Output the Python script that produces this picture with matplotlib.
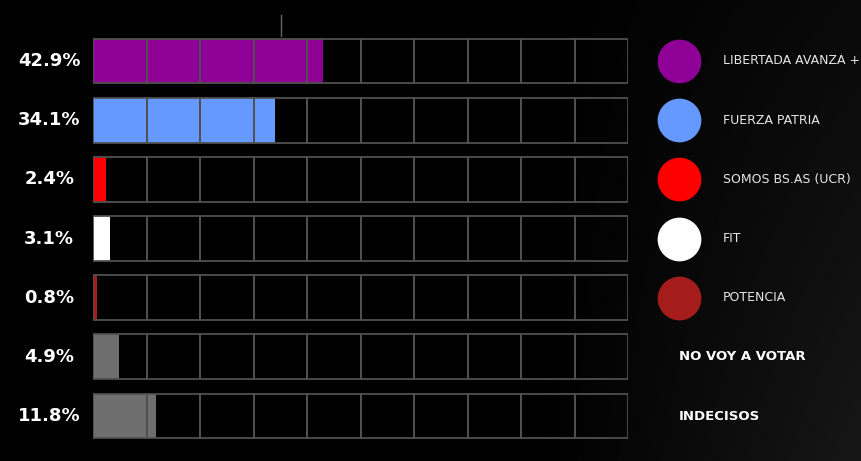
import numpy as np
import matplotlib.pyplot as plt

valores = [42.9, 34.1, 2.4, 3.1, 0.8, 4.9, 11.8]
etiquetas = ['42.9%', '34.1%', '2.4%', '3.1%', '0.8%', '4.9%', '11.8%']
partidos = ['LIBERTADA AVANZA +', 'FUERZA PATRIA', 'SOMOS BS.AS (UCR)', 'FIT', 'POTENCIA',
            'NO VOY A VOTAR', 'INDECISOS']
colores = ['#8e0096', '#6699ff', '#ff0000', '#ffffff', '#a51c1c', '#6e6e6e', '#6e6e6e']
con_circulo = [True, True, True, True, True, False, False]

fig = plt.figure(figsize=(8.61, 4.61), dpi=100, facecolor='black')

# fondo oscuro con degradado suave a la derecha
bg = fig.add_axes([0, 0, 1, 1], zorder=-1)
xx, yy = np.meshgrid(np.linspace(0, 1, 400), np.linspace(0, 1, 220))
grad = np.clip((xx - 0.62) * 0.28, 0, None) * (0.35 + 0.5 * yy)
bg.imshow(grad, cmap='gray', vmin=0, vmax=1, aspect='auto', extent=[0, 1, 0, 1])
bg.axis('off')

ax = fig.add_axes([93/861, 1 - 445.6/461, 535/861, (445.6 - 31.4)/461])
ax.set_facecolor('none')
y = np.arange(len(valores))

# barras rellenas
ax.barh(y, valores, height=0.76, color=colores, zorder=2)

# celdas de la cuadricula (10 por fila)
for i in y:
    ax.barh(i, 10, left=np.arange(0, 100, 10), height=0.76, fill=False,
            edgecolor='#505050', linewidth=1.3, zorder=3)

for i, (lab, part) in enumerate(zip(etiquetas, partidos)):
    ax.text(-8.2, i, lab, color='white', fontsize=13, fontweight='bold',
            ha='center', va='center', clip_on=False)
    if con_circulo[i]:
        ax.scatter(109.5, i, s=930, color=colores[i], clip_on=False, zorder=4)
        ax.text(117.8, i, part, color='#e6e6e6', fontsize=9, ha='left',
                va='center', clip_on=False)
    else:
        ax.text(109.5, i, part, color='white', fontsize=9.5, fontweight='bold',
                ha='left', va='center', clip_on=False)

# pequeña marca superior
ax.plot([35.1, 35.1], [-0.78, -0.42], color='#666666', lw=1, clip_on=False)

ax.set_xlim(0, 100)
ax.set_ylim(6.5, -0.5)
ax.axis('off')

fig.savefig('out.png', dpi=100, facecolor='black')
